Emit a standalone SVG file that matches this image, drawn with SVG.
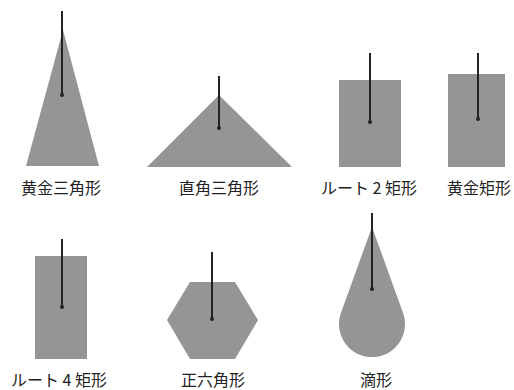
<svg xmlns="http://www.w3.org/2000/svg" width="514" height="390" viewBox="0 0 514 390">
<style>
.shape{fill:#959595;stroke:none}
.axis{stroke:#222;stroke-width:2;fill:none}
.dot{fill:#222}
.lbl{font-family:"Noto Sans CJK JP","Noto Sans",sans-serif;font-size:16px;fill:#222;text-anchor:middle}
</style>
<rect width="514" height="390" fill="#fff"/>
<g id="golden-triangle">
<polygon class="shape" points="63,30 99,166 26,166"/>
<text class="lbl" x="61" y="194">黄金三角形</text>
</g>
<g id="right-triangle">
<polygon class="shape" points="219,95 292,167 147,167"/>
<text class="lbl" x="219" y="194">直角三角形</text>
</g>
<g id="root2-rect">
<rect class="shape" x="339" y="80" width="62" height="87"/>
<text class="lbl" x="369" y="194">ルート 2 矩形</text>
</g>
<g id="golden-rect">
<rect class="shape" x="448" y="74" width="57" height="93"/>
<text class="lbl" x="479" y="194">黄金矩形</text>
</g>
<g id="root4-rect">
<rect class="shape" x="35" y="256" width="52" height="103"/>
<text class="lbl" x="59" y="386">ルート 4 矩形</text>
</g>
<g id="hexagon">
<polygon class="shape" points="190,282 235,282 258,320 235,359 190,359 167,320"/>
<text class="lbl" x="213" y="386">正六角形</text>
</g>
<g id="drop">
<path class="shape" d="M372,227 L403,312.8 A33,33 0 1 1 341,312.8 Z"/>
<text class="lbl" x="376" y="386">滴形</text>
</g>
<g id="connectors">
<line class="axis" x1="62" y1="11" x2="62" y2="95"/><circle class="dot" cx="62" cy="95" r="2"/>
<line class="axis" x1="219" y1="76" x2="219" y2="128"/><circle class="dot" cx="219" cy="128" r="2"/>
<line class="axis" x1="370" y1="53" x2="370" y2="122"/><circle class="dot" cx="370" cy="122" r="2"/>
<line class="axis" x1="478" y1="53" x2="478" y2="119"/><circle class="dot" cx="478" cy="119" r="2"/>
<line class="axis" x1="62" y1="239" x2="62" y2="307"/><circle class="dot" cx="62" cy="307" r="2"/>
<line class="axis" x1="212" y1="252" x2="212" y2="319"/><circle class="dot" cx="212" cy="319" r="2"/>
<line class="axis" x1="372" y1="213" x2="372" y2="289"/><circle class="dot" cx="372" cy="289" r="2"/>
</g>
</svg>
